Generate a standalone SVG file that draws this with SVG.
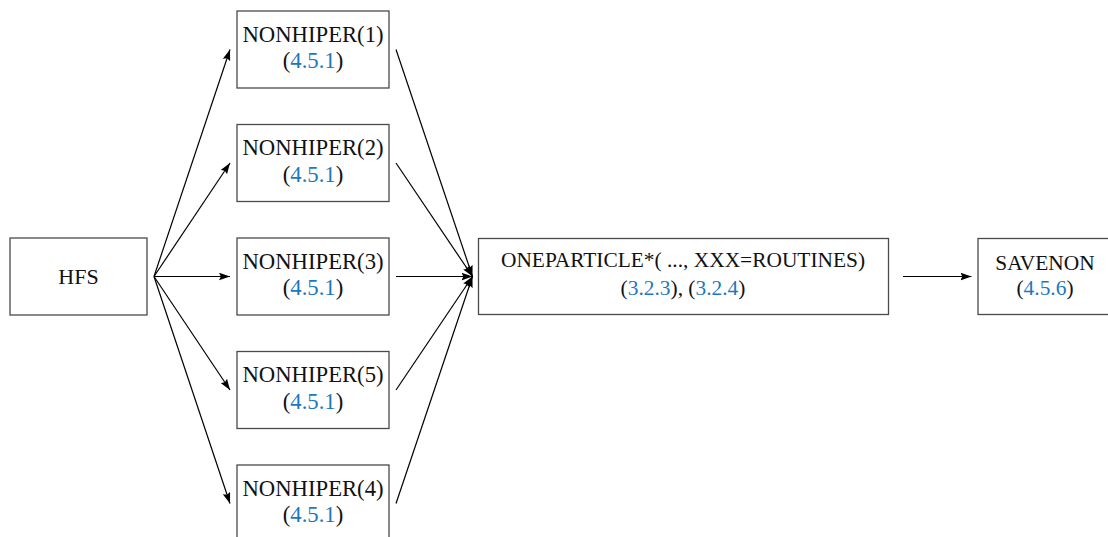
<svg xmlns="http://www.w3.org/2000/svg" width="1108" height="537" viewBox="0 0 1108 537">
  <style>
    .box { fill: #ffffff; stroke: #4a4a4a; stroke-width: 1.3; }
    .edge { fill: none; stroke: #000000; stroke-width: 1.2; marker-end: url(#arrow); }
    .big { font-size: 22.7px; }
    .mid { font-size: 22px; }
    .small { font-size: 21.4px; }
    .ref { fill: #1c78be; }
  </style>
  <defs>
    <marker id="arrow" markerUnits="userSpaceOnUse" markerWidth="12" markerHeight="8" refX="11" refY="3.8" orient="auto">
      <path d="M0,0 L11,3.8 L0,7.6 L1.8,3.8 z" fill="#000000"/>
    </marker>
  </defs>

  <!-- connectors -->
  <g id="connectors">
    <line class="edge" x1="154" y1="276.5" x2="230" y2="49.5"/>
    <line class="edge" x1="154" y1="276.5" x2="230" y2="163"/>
    <line class="edge" x1="154" y1="276.5" x2="230" y2="276.5"/>
    <line class="edge" x1="154" y1="276.5" x2="230" y2="390"/>
    <line class="edge" x1="154" y1="276.5" x2="230" y2="503.5"/>
    <line class="edge" x1="396" y1="49.5" x2="472.5" y2="276.5"/>
    <line class="edge" x1="396" y1="163" x2="472.5" y2="276.5"/>
    <line class="edge" x1="396" y1="276.5" x2="472.5" y2="276.5"/>
    <line class="edge" x1="396" y1="390" x2="472.5" y2="276.5"/>
    <line class="edge" x1="396" y1="503.5" x2="472.5" y2="276.5"/>
    <line class="edge" x1="903" y1="276.5" x2="971.5" y2="276.5"/>
  </g>

  <!-- nodes: all labels share one serif face -->
  <g font-family="Liberation Serif, serif" fill="#111111" text-anchor="middle">
    <g id="hfs">
      <rect class="box" x="10" y="238" width="137" height="77"/>
      <text class="mid" x="78.5" y="283.5">HFS</text>
    </g>

    <g id="nonhiper1">
      <rect class="box" x="237" y="11" width="152" height="77"/>
      <text class="big" x="313" y="41.5">NONHIPER(1)</text>
      <text class="big" x="313" y="68.3">(<tspan class="ref">4.5.1</tspan>)</text>
    </g>

    <g id="nonhiper2">
      <rect class="box" x="237" y="124.5" width="152" height="77"/>
      <text class="big" x="313" y="155">NONHIPER(2)</text>
      <text class="big" x="313" y="181.8">(<tspan class="ref">4.5.1</tspan>)</text>
    </g>

    <g id="nonhiper3">
      <rect class="box" x="237" y="238" width="152" height="77"/>
      <text class="big" x="313" y="268.5">NONHIPER(3)</text>
      <text class="big" x="313" y="295.3">(<tspan class="ref">4.5.1</tspan>)</text>
    </g>

    <g id="nonhiper5">
      <rect class="box" x="237" y="351.5" width="152" height="77"/>
      <text class="big" x="313" y="382">NONHIPER(5)</text>
      <text class="big" x="313" y="408.8">(<tspan class="ref">4.5.1</tspan>)</text>
    </g>

    <g id="nonhiper4">
      <rect class="box" x="237" y="465" width="152" height="77"/>
      <text class="big" x="313" y="495.5">NONHIPER(4)</text>
      <text class="big" x="313" y="522.3">(<tspan class="ref">4.5.1</tspan>)</text>
    </g>

    <g id="oneparticle">
      <rect class="box" x="478.5" y="238.5" width="410" height="76"/>
      <text class="small" x="683" y="266.7">ONEPARTICLE*( ..., XXX=ROUTINES)</text>
      <text class="small" x="683" y="295.3">(<tspan class="ref">3.2.3</tspan>), (<tspan class="ref">3.2.4</tspan>)</text>
    </g>

    <g id="savenon">
      <rect class="box" x="978" y="238.5" width="135" height="76"/>
      <text class="small" x="1045" y="270">SAVENON</text>
      <text class="small" x="1045" y="295">(<tspan class="ref">4.5.6</tspan>)</text>
    </g>
  </g>
</svg>
